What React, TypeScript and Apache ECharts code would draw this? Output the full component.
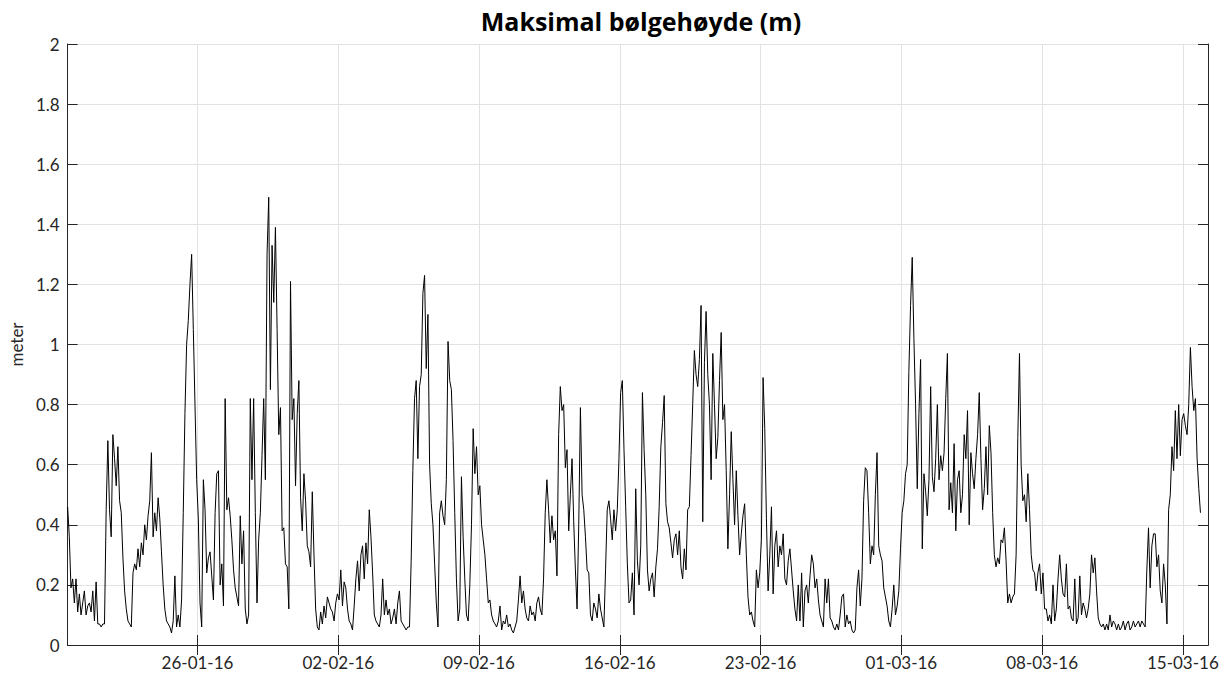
import React, { useEffect, useRef } from "react";
import * as echarts from "echarts";

// 2-hourly maximum wave height (m), starting 19-01-2016 13:00
const seg1 = [0.46,0.36,0.19,0.22,0.14,0.22,0.11,0.17,0.10,0.14,0.18,0.10,0.13,0.14,0.11,0.18,0.08,0.21,0.07,0.07,0.06,0.07,0.07,0.45,0.68,0.45,0.36,0.70,0.62,0.53,0.66,0.48,0.44,0.29,0.18,0.12,0.08,0.07,0.06,0.24,0.27,0.25,0.32,0.26,0.34,0.30,0.40,0.35,0.43,0.48,0.64,0.36,0.44,0.38,0.49,0.42,0.31,0.20,0.12,0.08,0.07,0.06,0.04,0.08,0.23,0.06,0.10,0.06,0.15,0.44,0.77,1.00];
const seg2 = [1.08,1.20,1.30,1.05,0.80,0.55,0.42,0.14,0.06,0.55,0.45,0.24,0.29,0.31,0.23,0.15,0.44,0.57,0.58,0.20,0.27,0.13,0.82,0.45,0.49,0.43,0.35,0.25,0.19,0.16,0.13,0.43,0.27,0.38,0.12,0.07,0.10,0.82,0.55,0.82,0.44,0.14,0.35,0.44,0.63,0.82,0.55,1.30,1.49,0.85,1.33,1.14,1.39,1.05,0.70,0.79,0.38,0.39,0.27,0.26,0.12,1.21,0.75,0.82,0.53,0.77,0.88,0.49,0.38,0.57,0.48,0.33,0.31,0.26,0.51];
const seg3 = [0.30,0.12,0.06,0.05,0.11,0.07,0.13,0.09,0.16,0.14,0.12,0.11,0.08,0.14,0.17,0.15,0.25,0.13,0.21,0.19,0.12,0.08,0.07,0.05,0.13,0.22,0.28,0.18,0.30,0.33,0.22,0.34,0.27,0.45,0.36,0.24,0.10,0.08,0.07,0.06,0.10,0.22,0.10,0.15,0.10,0.12,0.07,0.09,0.12,0.07,0.14,0.18,0.08,0.07,0.06,0.05,0.06,0.06,0.28,0.58,0.82,0.88,0.62,0.86,0.90,1.17,1.23,0.92,1.10,0.60,0.47,0.40,0.27,0.14];
const seg4 = [0.06,0.44,0.48,0.43,0.40,0.55,1.01,0.88,0.85,0.68,0.44,0.22,0.08,0.12,0.56,0.36,0.22,0.10,0.08,0.20,0.40,0.72,0.57,0.66,0.50,0.53,0.40,0.35,0.30,0.22,0.14,0.15,0.10,0.08,0.07,0.06,0.08,0.13,0.05,0.08,0.07,0.10,0.06,0.07,0.05,0.04,0.06,0.08,0.15,0.23,0.14,0.18,0.12,0.09,0.08,0.13,0.10,0.11,0.08,0.14,0.16,0.12,0.10,0.22,0.44,0.55,0.45,0.34,0.43,0.35,0.38,0.23,0.70,0.86,0.78];
const seg5 = [0.80,0.59,0.65,0.38,0.50,0.62,0.41,0.25,0.12,0.40,0.79,0.50,0.45,0.36,0.25,0.24,0.10,0.08,0.14,0.12,0.09,0.17,0.12,0.09,0.06,0.25,0.45,0.48,0.42,0.35,0.45,0.38,0.45,0.62,0.84,0.88,0.65,0.46,0.27,0.14,0.15,0.24,0.10,0.52,0.28,0.20,0.33,0.84,0.65,0.50,0.25,0.18,0.22,0.24,0.16,0.26,0.32,0.46,0.66,0.74,0.83,0.47,0.41,0.39,0.34,0.29,0.35,0.37,0.30,0.38,0.26,0.22,0.32,0.25];
const seg6 = [0.45,0.46,0.63,0.80,0.98,0.90,0.86,0.95,1.13,0.41,0.94,1.11,0.90,0.80,0.55,0.97,0.80,0.62,0.69,0.88,1.04,0.75,0.80,0.58,0.32,0.50,0.71,0.55,0.40,0.58,0.43,0.30,0.37,0.43,0.47,0.30,0.16,0.10,0.11,0.08,0.06,0.25,0.19,0.24,0.35,0.89,0.72,0.42,0.18,0.30,0.46,0.17,0.33,0.38,0.26,0.33,0.30,0.37,0.22,0.20,0.28,0.32,0.25,0.18,0.12,0.08,0.20,0.08,0.24,0.06,0.18,0.20,0.14,0.23,0.30];
const seg7 = [0.27,0.19,0.22,0.15,0.10,0.08,0.06,0.22,0.14,0.22,0.09,0.08,0.06,0.05,0.07,0.05,0.10,0.16,0.17,0.06,0.10,0.07,0.08,0.05,0.04,0.05,0.19,0.25,0.13,0.22,0.48,0.59,0.58,0.44,0.27,0.33,0.30,0.50,0.64,0.33,0.30,0.28,0.19,0.16,0.13,0.08,0.06,0.12,0.20,0.10,0.13,0.18,0.32,0.44,0.48,0.57,0.60,0.91,1.13,1.29,1.02,0.80,0.52,0.77,0.95,0.32,0.57,0.51,0.43,0.55,0.86,0.56,0.51,0.62];
const seg8 = [0.80,0.55,0.63,0.58,0.64,0.82,0.97,0.45,0.54,0.44,0.67,0.38,0.55,0.58,0.44,0.50,0.70,0.62,0.78,0.40,0.64,0.57,0.52,0.62,0.70,0.84,0.62,0.45,0.52,0.66,0.50,0.73,0.64,0.44,0.30,0.26,0.29,0.27,0.35,0.34,0.39,0.28,0.14,0.17,0.14,0.16,0.17,0.30,0.69,0.97,0.60,0.48,0.50,0.41,0.57,0.45,0.30,0.25,0.24,0.18,0.24,0.27,0.17,0.24,0.12,0.12,0.08,0.10,0.07,0.20,0.08,0.12,0.22,0.30,0.22];
const seg9 = [0.17,0.16,0.27,0.12,0.13,0.09,0.08,0.22,0.07,0.09,0.23,0.10,0.14,0.12,0.09,0.12,0.17,0.30,0.24,0.29,0.18,0.09,0.07,0.06,0.07,0.05,0.07,0.05,0.10,0.06,0.08,0.07,0.05,0.07,0.05,0.06,0.08,0.05,0.07,0.08,0.05,0.06,0.08,0.06,0.07,0.08,0.06,0.08,0.07,0.06,0.25,0.39,0.19,0.33,0.37,0.37,0.26,0.30,0.18,0.14,0.27,0.20,0.07,0.45,0.50,0.66,0.58,0.78,0.62,0.80,0.63,0.75,0.77,0.73,0.70,0.80,0.99,0.86,0.78,0.82,0.62,0.52,0.44];

const tickLabels = ["26-01-16", "02-02-16", "09-02-16", "16-02-16", "23-02-16", "01-03-16", "08-03-16", "15-03-16"];

const START = Date.UTC(2016, 0, 19, 13);
const STEP = 2 * 3600 * 1000;
const X_MIN = Date.UTC(2016, 0, 19, 13);
const X_MAX = Date.UTC(2016, 2, 16, 6);

const parseLabel = (s: string) => {
  const [d, m, y] = s.split("-").map(Number);
  return Date.UTC(2000 + y, m - 1, d);
};
const tickValues = tickLabels.map(parseLabel);
const pad = (n: number) => (n < 10 ? "0" + n : "" + n);
const fmt = (v: number) => {
  const d = new Date(v);
  return pad(d.getUTCDate()) + "-" + pad(d.getUTCMonth() + 1) + "-" + pad(d.getUTCFullYear() % 100);
};

const FONT = "Lato";
const AX = "#262626";
const GRIDC = "#e2e2e2";

export default function App() {
  const ref = useRef<HTMLDivElement>(null);
  useEffect(() => {
    if (!ref.current) return;
    const chart = echarts.init(ref.current, null, { renderer: "svg" });
    const values = [...seg1, ...seg2, ...seg3, ...seg4, ...seg5, ...seg6, ...seg7, ...seg8, ...seg9];
    const data = values.map((v, i) => [START + i * STEP, v]);
    chart.setOption({
      animation: false,
      backgroundColor: "#ffffff",
      title: {
        text: "Maksimal bølgehøyde (m)",
        left: 636,
        top: 3,
        textAlign: "center",
        textStyle: { fontFamily: "Open Sans", fontSize: 25, fontWeight: "bold", color: "#000000" },
      },
      grid: { left: 67, right: 23, top: 44, bottom: 29, containLabel: false },
      xAxis: [
        {
          type: "value",
          min: X_MIN,
          max: X_MAX,
          axisLine: { show: true, lineStyle: { color: AX, width: 1 } },
          axisTick: { show: true, inside: true, length: 10, customValues: tickValues, lineStyle: { color: AX } },
          axisLabel: { show: true, customValues: tickValues, formatter: fmt, fontFamily: FONT, fontSize: 17, color: AX, margin: 9 },
          splitLine: { show: true, lineStyle: { color: GRIDC, width: 1 } },
        },
        {
          type: "value",
          position: "top",
          min: X_MIN,
          max: X_MAX,
          axisLine: { show: true, lineStyle: { color: AX, width: 1 } },
          axisTick: { show: true, inside: true, length: 10, customValues: tickValues, lineStyle: { color: AX } },
          axisLabel: { show: false },
          splitLine: { show: false },
        },
      ],
      yAxis: [
        {
          type: "value",
          min: 0,
          max: 2,
          interval: 0.2,
          name: "meter",
          nameLocation: "middle",
          nameGap: 42,
          nameTextStyle: { fontFamily: FONT, fontSize: 17, color: AX },
          axisLine: { show: true, lineStyle: { color: AX, width: 1 } },
          axisTick: { show: true, inside: true, length: 10, lineStyle: { color: AX } },
          axisLabel: { show: true, fontFamily: FONT, fontSize: 17, color: AX, margin: 8, formatter: (v: number) => String(Math.round(v * 10) / 10) },
          splitLine: { show: true, lineStyle: { color: GRIDC, width: 1 } },
        },
        {
          type: "value",
          position: "right",
          min: 0,
          max: 2,
          interval: 0.2,
          axisLine: { show: true, lineStyle: { color: AX, width: 1 } },
          axisTick: { show: true, inside: true, length: 10, lineStyle: { color: AX } },
          axisLabel: { show: false },
          splitLine: { show: false },
        },
      ],
      series: [
        {
          type: "line",
          name: "Hmax",
          xAxisIndex: 0,
          yAxisIndex: 0,
          data,
          showSymbol: false,
          symbol: "none",
          silent: true,
          lineStyle: { color: "#000000", width: 1 },
        },
      ],
    });
    return () => chart.dispose();
  }, []);
  return <div ref={ref} style={{ position: "absolute", left: 0, top: 0, width: 1231, height: 674 }} />;
}
